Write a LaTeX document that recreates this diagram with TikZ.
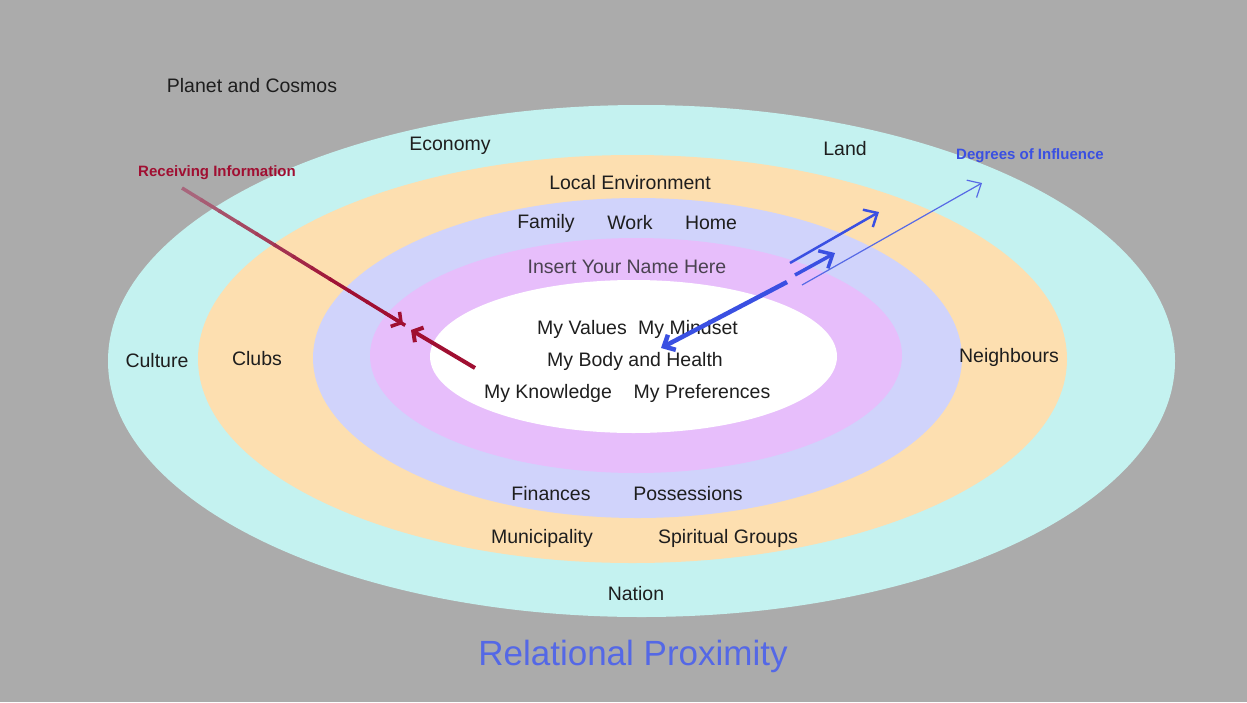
\documentclass[tikz,border=0pt]{standalone}
\usepackage{fontspec}
\setmainfont{Liberation Sans}
\usetikzlibrary{arrows.meta,calc}
\definecolor{bg}{HTML}{ABABAB}
\definecolor{ringA}{HTML}{C4F2F0}
\definecolor{ringB}{HTML}{FDDFB0}
\definecolor{ringC}{HTML}{D0D3FB}
\definecolor{ringD}{HTML}{E7BEFB}
\definecolor{txt}{HTML}{1E1E1E}
\definecolor{nametxt}{HTML}{4A4250}
\definecolor{recvA}{HTML}{A8667C}
\definecolor{recvB}{HTML}{A00F32}
\definecolor{infl}{HTML}{3A50E2}
\definecolor{titleblue}{HTML}{5468E6}
\tikzset{
  lbl/.style={text=txt, font=\fontsize{19.5}{22}\selectfont, inner sep=0pt},
  ann/.style={font=\bfseries\fontsize{15}{18}\selectfont, inner sep=0pt},
  redtip/.style={-{Straight Barb[length=7pt,width=17pt]}},
  bluetip/.style={-{Straight Barb[length=11pt,width=20pt]}},
  bluetipsmall/.style={-{Straight Barb[length=9pt,width=17pt]}},
}
\begin{document}
\begin{tikzpicture}[x=1pt,y=-1pt]
\useasboundingbox (0,0) rectangle (1247,702);
\fill[bg] (0,0) rectangle (1247,702);
% rings
\fill[ringA] (641.5,361) ellipse [x radius=533.5pt, y radius=256pt];
\fill[ringB] (632.5,359) ellipse [x radius=434.5pt, y radius=204pt];
\fill[ringC] (637.5,358) ellipse [x radius=324.5pt, y radius=160pt];
\fill[ringD] (636,355.5) ellipse [x radius=266pt, y radius=117.5pt];
\fill[white] (633.5,356.5) ellipse [x radius=203.5pt, y radius=76.5pt];
% labels
\node[lbl] (planet) at (252,86) {Planet and Cosmos};
\node[lbl] (economy) at (450,146) {Economy};
\node[lbl] (land) at (845,149) {Land};
\node[lbl] (localenv) at (630,183) {Local Environment};
\node[lbl] (family) at (546,223) {Family};
\node[lbl] (work) at (630,223) {Work};
\node[lbl] (home) at (711,223) {Home};
\node[lbl, text=nametxt] (name) at (627,267) {Insert Your Name Here};
\node[lbl] (values) at (582,329) {My Values};
\node[lbl] (mindset) at (688,329) {My Mindset};
\node[lbl] (body) at (635,361) {My Body and Health};
\node[lbl] (knowledge) at (548,393) {My Knowledge};
\node[lbl] (prefs) at (702,393) {My Preferences};
\node[lbl] (culture) at (157,361) {Culture};
\node[lbl] (clubs) at (257,359) {Clubs};
\node[lbl] (neigh) at (1009,357) {Neighbours};
\node[lbl] (fin) at (551,494) {Finances};
\node[lbl] (poss) at (688,494) {Possessions};
\node[lbl] (muni) at (542,538) {Municipality};
\node[lbl] (spirit) at (728,538) {Spiritual Groups};
\node[lbl] (nation) at (636,594) {Nation};
\node[text=titleblue, font=\fontsize{35}{40}\selectfont, inner sep=0pt] (title) at (633,656) {Relational Proximity};
\node[ann, text=recvB] (recv) at (217,173) {Receiving Information};
\node[ann, text=infl] (degr) at (1030,156) {Degrees of Influence};
% receiving information arrows
\coordinate (rs) at (182,188);
\coordinate (re) at (403,324);
\foreach \i in {0,...,11}{
  \pgfmathsetmacro{\pa}{\i/12}
  \pgfmathsetmacro{\pb}{(\i+1)/12+0.01}
  \pgfmathsetmacro{\pc}{min(100,\i*12)}
  \draw[line width=3.5pt, color=recvB!\pc!recvA] ($(rs)!\pa!(re)$) -- ($(rs)!\pb!(re)$);
}
\coordinate (rtipa) at ($(rs)!0.93!(re)$);
\draw[line width=3.5pt, recvB, redtip] (rtipa) -- (re);
\coordinate (r2s) at (475,368);
\coordinate (r2e) at (411,330);
\draw[line width=4pt, recvB, redtip] (r2s) -- (r2e);
% degrees of influence arrows
\coordinate (b1s) at (787,282);
\coordinate (b1e) at (661,348);
\draw[line width=4.5pt, infl, bluetipsmall] (b1s) -- (b1e);
\coordinate (b2s) at (795,275);
\coordinate (b2e) at (835,253);
\draw[line width=3.5pt, infl, bluetip] (b2s) -- (b2e);
\coordinate (b3s) at (790,263);
\coordinate (b3e) at (879,212);
\draw[line width=2.5pt, infl, bluetip] (b3s) -- (b3e);
\coordinate (b4s) at (802,285);
\coordinate (b4e) at (982,183);
\draw[line width=1.2pt, infl!85!white, bluetip] (b4s) -- (b4e);
\end{tikzpicture}
\end{document}
